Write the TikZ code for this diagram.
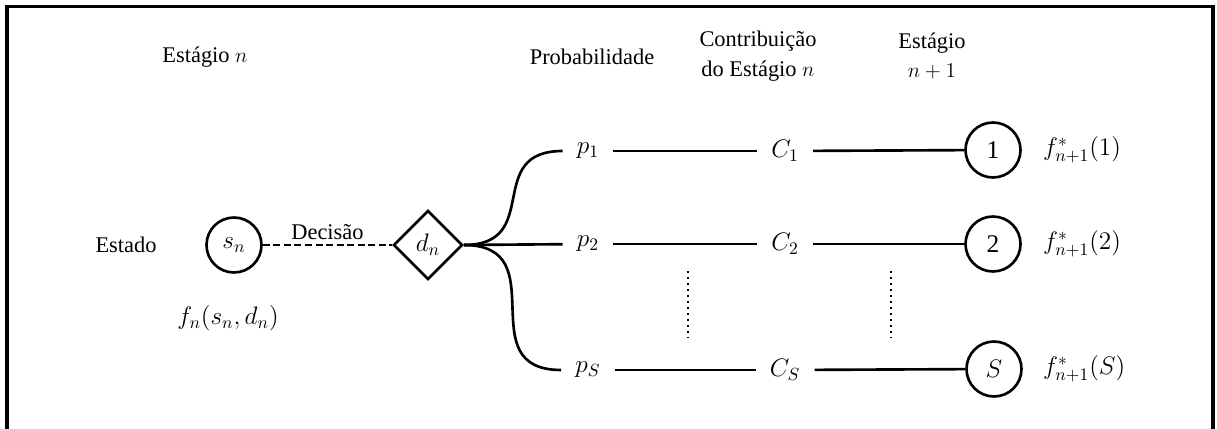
\documentclass[tikz,border=0pt]{standalone}
\usepackage{fontspec}
\setmainfont{Liberation Serif}
\usetikzlibrary{shapes.geometric}

\begin{document}
\begin{tikzpicture}[x=0.02cm,y=-0.02cm,
  font=\fontsize{12.75}{17}\selectfont,
  line width=1.5pt,
  mathlbl/.style={font=\fontsize{14.5}{17}\selectfont},
  state/.style={draw,circle,minimum size=1.1cm,inner sep=0pt,mathlbl},
  decision/.style={draw,diamond,minimum size=1.38cm,inner sep=0pt,mathlbl},
  lbl/.style={inner sep=0.26cm,mathlbl},
  branch/.style={out=0,in=180,looseness=1.5},
  dotline/.style={line width=1.4pt,dash pattern=on 1.4pt off 2pt}]

\useasboundingbox (0,0) rectangle (1217,429);

% ===== Frame =====
\draw[line width=2.2pt] (7,429) -- (7,6.5) -- (1213,6.5) -- (1213,429);

% ===== Headers =====
\node (hEst) at (205,57) {Estágio $n$};
\node (hProb) at (592,57) {Probabilidade};
\node[align=center] (hCon) at (758,56) {Contribuição\\do Estágio $n$};
\node[align=center] (hNext) at (932,56) {Estágio\\$n+1$};

% ===== Stage n =====
\node (estado) at (126,245) {Estado};
\node[state] (sn) at (234,245) {$s_n$};
\node[decision] (dn) at (428,245) {$d_n$};
\node[mathlbl] (fn) at (228,318) {$f_n(s_n,d_n)$};
\draw[dash pattern=on 4pt off 2pt] (sn) -- node[above,inner sep=2pt] {Decisão} (dn);

% Probabilities
\node[lbl] (p1) at (588,151) {$p_1$};
\node[lbl] (p2) at (588,244) {$p_2$};
\node[lbl] (pS) at (588,370) {$p_S$};

% Contributions
\node[lbl] (c1) at (785,151) {$C_1$};
\node[lbl] (c2) at (785,244) {$C_2$};
\node[lbl] (cS) at (785,370) {$C_S$};

% ===== Stage n+1 =====
\node[state] (e1) at (993,150) {1};
\node[state] (e2) at (993,244) {2};
\node[state] (eS) at (994,369) {$S$};
\node[anchor=west,mathlbl] (f1) at (1036,150) {$f^*_{n+1}(1)$};
\node[anchor=west,mathlbl] (f2) at (1036,244) {$f^*_{n+1}(2)$};
\node[anchor=west,mathlbl] (fS) at (1036,369) {$f^*_{n+1}(S)$};

% Branches
\draw (dn.east) to[branch] (p1);
\draw (dn.east) -- (p2);
\draw (dn.east) to[branch] (pS);
\draw (p1) -- (c1);
\draw (p2) -- (c2);
\draw (pS) -- (cS);
\draw (c1) -- (e1);
\draw (c2) -- (e2);
\draw (cS) -- (eS);

% Dots
\draw[dotline] (688,271) -- (688,338);
\draw[dotline] (891,271) -- (891,338);

\end{tikzpicture}
\end{document}
